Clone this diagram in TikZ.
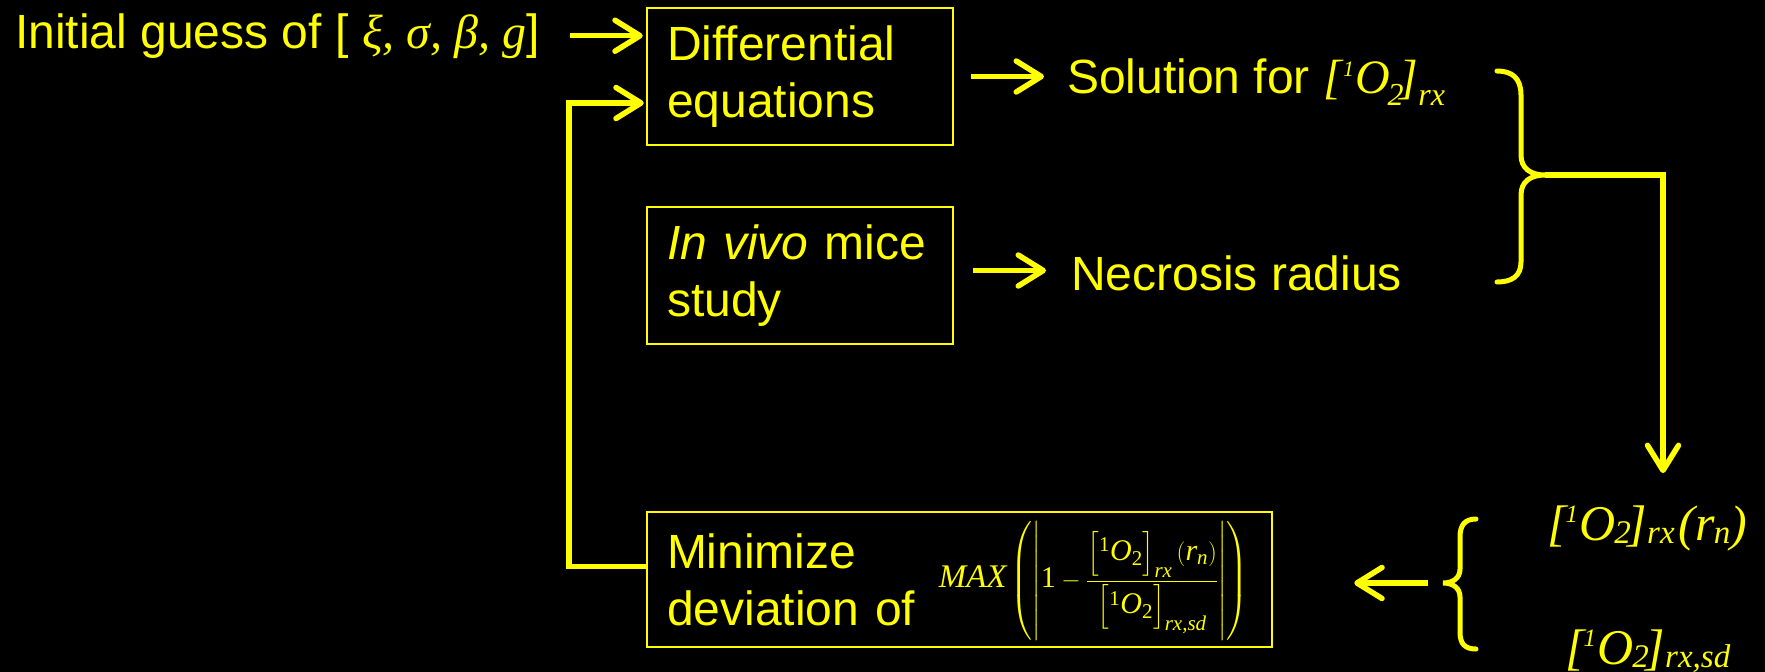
\documentclass[tikz,border=0pt]{standalone}
\usepackage{amsmath}
\usepackage[no-math]{fontspec}
\setmainfont{Liberation Sans}
\newfontfamily\tms{Liberation Serif}
\usetikzlibrary{arrows.meta,calc}
\definecolor{yel}{RGB}{255,255,0}
\newcommand\hiS[1]{\raisebox{17pt}{\fontsize{22}{22}\selectfont #1}}
\newcommand\hiT[1]{\raisebox{18pt}{\fontsize{25}{25}\selectfont #1}}
\newcommand\loS[1]{\raisebox{-12pt}{\fontsize{32}{32}\selectfont #1}}
\newcommand\loT[1]{\raisebox{-3pt}{\fontsize{33}{33}\selectfont #1}}
\newcommand\oxyS{[\kern1pt\hiS{1}\kern1pt O\kern-2pt\loS{2}\kern-4pt]}
\newcommand\oxyT{[\kern-1pt\hiT{1}\kern1pt O\kern-1pt\loT{2}\kern-3pt]}
\newcommand\ti[1]{\text{\tms\itshape #1}}
\newcommand\tr[1]{\text{\tms #1}}
\begin{document}
\begin{tikzpicture}[x=1pt,y=-1pt,
  every node/.style={text=yel, font=\fontsize{48}{57}\selectfont, inner sep=0pt},
  ybox/.style={draw=yel, line width=2.5pt, inner xsep=20pt, align=left, minimum height=137pt},
  arr/.style={draw=yel, line width=5.5pt, -{Straight Barb[round,length=25pt,width=31pt]}},
  brc/.style={draw=yel, line width=5pt, line cap=round}]
\fill[black] (0,0) rectangle (1765,672);
\useasboundingbox (0,0) rectangle (1765,672);

\node[ybox, text width=266pt] (diff) at (800,76.5) {Differential\\equations};
\node[ybox, text width=266pt] (vivo) at (800,275.5) {\textit{In vivo} mice\\study};
\node[ybox, text width=585pt, minimum height=135pt] (minb) at (959.5,579.5) {Minimize\\deviation of};
\node[font=\fontsize{30}{34}\selectfont] (maxf) at (1093.5,581)
 {$\text{\fontsize{33}{33}\selectfont\tms\itshape MAX}\left(\left|\rule[-52pt]{0pt}{116pt}\tr{1}-\dfrac{\Bigl[{}^{\tr{1}}\ti{O}_{\tr{2}}\Bigr]_{\ti{rx}}\,(\ti{r}_{\ti{n}})}{\Bigl[{}^{\tr{1}}\ti{O}_{\tr{2}}\Bigr]_{\ti{rx,sd}}}\right|\right)$};

\node[anchor=base west] (init) at (15,48) {Initial guess of [ {\tms\itshape ξ, σ, β, g}]};
\node[anchor=base west] (sol) at (1067,93) {Solution for {\tms\itshape\oxyS\loS{rx}}};
\node[anchor=base west] (nec) at (1071,290) {Necrosis radius};
\node[anchor=base west, font=\tms\itshape\fontsize{50}{50}\selectfont] (o1) at (1547,540) {\oxyT\loT{rx}\kern4pt(r\kern-1pt\loT{n})};
\node[anchor=base west, font=\tms\itshape\fontsize{50}{50}\selectfont] (o2) at (1565,664) {\oxyT\loT{rx,sd}};

\draw[arr] ([xshift=30pt]init.east) -- ([xshift=-3pt]diff.west |- init.east);
\draw[arr] ([yshift=13pt]minb.west) -- ++(-77,0) |- ([xshift=-2pt,yshift=-26.5pt]diff.west);
\draw[arr] ([xshift=17pt]diff.east) -- ([xshift=-23pt]sol.west |- diff.east);
\draw[arr] ([xshift=19pt,yshift=5pt]vivo.east) -- ([xshift=-25pt,yshift=5pt]nec.west |- vivo.east);

\draw[brc] (1497,71) .. controls (1512,71) and (1521,78) .. (1521,95) -- (1521,155)
  .. controls (1521,168) and (1530,175) .. (1545,175)
  .. controls (1530,175) and (1521,182) .. (1521,195) -- (1521,262)
  .. controls (1521,276) and (1512,282) .. (1497,282);
\coordinate (rb) at (1545,175);
\draw[arr] (rb) -| ([xshift=116pt,yshift=32pt]o1.north west);

\draw[brc] (1476,519) .. controls (1465,519) and (1460,525) .. (1460,537) -- (1460,569)
  .. controls (1460,578) and (1453,583) .. (1443,583)
  .. controls (1453,583) and (1460,588) .. (1460,597) -- (1460,632)
  .. controls (1460,644) and (1465,649) .. (1476,649);
\coordinate (lb) at (1443,583);
\draw[arr] ([xshift=-15pt]lb) -- ([xshift=81pt]minb.east |- lb);
\end{tikzpicture}
\end{document}
